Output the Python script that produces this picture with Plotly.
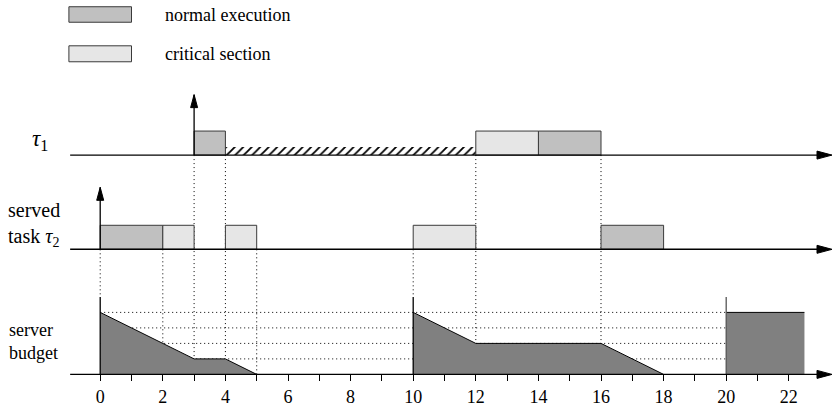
import plotly.graph_objects as go

# ---------------- data ----------------
ticks = list(range(0, 23))
tick_labels = [str(t) if t % 2 == 0 else "" for t in ticks]

tau1_normal_start = [3, 14]
tau1_normal_end = [4, 16]
tau1_critical_start = [12]
tau1_critical_end = [14]
tau1_blocked_start = [4]
tau1_blocked_end = [12]

tau2_normal_start = [0, 16]
tau2_normal_end = [2, 18]
tau2_critical_start = [2, 4, 10]
tau2_critical_end = [3, 5, 12]

tau1_release = [3]
tau2_release = [0]

budget_t = [[0, 3, 4, 5], [10, 12, 16, 18], [20, 22.5]]
budget_v = [[4, 1, 1, 0], [4, 2, 2, 0], [4, 4]]
replenish_t = [0, 10, 20]
budget_levels = [1, 2, 3, 4]
budget_max = 5

dot_t = [0, 2, 3, 4, 5, 10, 12, 16]
dot_from_row = ["tau2", "tau2", "tau1", "tau1", "tau2", "tau2", "tau1", "tau1"]
dot_to_level = [5, 2, 1, 1, 0, 5, 2, 2]

# ---------------- style / layout constants ----------------
NORMAL = "#c0c0c0"
CRITICAL = "#e6e6e6"
BUDGET = "#808080"
EDGE = "#3a3a3a"
FONT = "Liberation Serif"

ROW = {"tau1": 14.15, "tau2": 8.07}
BAR_H = 1.55
HATCH_H = 0.52
AX_START = -0.96
AX_END = 23.38
GRID_END = 20

fig = go.Figure()
shapes = []
annotations = []


def rect(x0, x1, y0, y1, fill, line=EDGE):
    shapes.append(dict(type="rect", xref="x", yref="y", x0=x0, x1=x1, y0=y0, y1=y1,
                       fillcolor=fill, line=dict(color=line, width=1), layer="above"))


def hline(x0, x1, y, width=1.3, color="black", dash=None, layer="above"):
    d = dict(color=color, width=width)
    if dash:
        d["dash"] = dash
    shapes.append(dict(type="line", xref="x", yref="y", x0=x0, x1=x1, y0=y, y1=y,
                       line=d, layer=layer))


def vline(x, y0, y1, width=1.3, color="black", dash=None, layer="above"):
    d = dict(color=color, width=width)
    if dash:
        d["dash"] = dash
    shapes.append(dict(type="line", xref="x", yref="y", x0=x, x1=x, y0=y0, y1=y1,
                       line=d, layer=layer))


def head_right(x, y):
    shapes.append(dict(type="path", xref="x", yref="y", xsizemode="pixel", ysizemode="pixel",
                       xanchor=x, yanchor=y, path="M0,0 L-15,4 L-15,-4 Z",
                       fillcolor="black", line=dict(color="black", width=1)))


def head_up(x, y):
    shapes.append(dict(type="path", xref="x", yref="y", xsizemode="pixel", ysizemode="pixel",
                       xanchor=x, yanchor=y, path="M0,0 L-3.5,-13 L3.5,-13 Z",
                       fillcolor="black", line=dict(color="black", width=1)))


# dotted budget grid (below the fill)
for lv in budget_levels:
    hline(0, GRID_END, lv, width=1, dash="1px,3px", layer="below")

# dotted vertical guides
for t, r, lv in zip(dot_t, dot_from_row, dot_to_level):
    vline(t, ROW[r], lv, width=1, dash="1px,3px", layer="below")

# budget fill + outline
for ts, vs in zip(budget_t, budget_v):
    xs = [ts[0]] + ts + [ts[-1], ts[0]]
    ys = [0] + vs + [0, 0]
    fig.add_trace(go.Scatter(x=xs, y=ys, mode="lines", fill="toself", fillcolor=BUDGET,
                             line=dict(width=0), hoverinfo="skip", showlegend=False))
    fig.add_trace(go.Scatter(x=ts, y=vs, mode="lines", line=dict(color="black", width=1),
                             hoverinfo="skip", showlegend=False))
for t in replenish_t:
    vline(t, 0, budget_max, width=1.3, color="black" if t < 20 else "#555")

# hatched blocked interval of tau1
for s, e in zip(tau1_blocked_start, tau1_blocked_end):
    fig.add_trace(go.Bar(x=[(s + e) / 2], width=[e - s], base=[ROW["tau1"]], y=[HATCH_H],
                         marker=dict(color="rgba(0,0,0,0)", line=dict(width=0),
                                     pattern=dict(shape="/", fgcolor="black", bgcolor="rgba(0,0,0,0)",
                                                  size=6, solidity=0.3, fgopacity=1)),
                         hoverinfo="skip", showlegend=False))

# task bars
for s, e in zip(tau1_normal_start, tau1_normal_end):
    rect(s, e, ROW["tau1"], ROW["tau1"] + BAR_H, NORMAL)
for s, e in zip(tau1_critical_start, tau1_critical_end):
    rect(s, e, ROW["tau1"], ROW["tau1"] + BAR_H, CRITICAL)
for s, e in zip(tau2_normal_start, tau2_normal_end):
    rect(s, e, ROW["tau2"], ROW["tau2"] + BAR_H, NORMAL)
for s, e in zip(tau2_critical_start, tau2_critical_end):
    rect(s, e, ROW["tau2"], ROW["tau2"] + BAR_H, CRITICAL)

# time axes with arrows
for y in [ROW["tau1"], ROW["tau2"], 0]:
    hline(AX_START, AX_END - 0.2, y, width=1.4)
    head_right(AX_END, y)

# release arrows
for t in tau1_release:
    vline(t, ROW["tau1"], ROW["tau1"] + 3.9, width=1.3)
    head_up(t, ROW["tau1"] + 3.9)
for t in tau2_release:
    vline(t, ROW["tau2"], ROW["tau2"] + 4.0, width=1.3)
    head_up(t, ROW["tau2"] + 4.0)

# legend
rect(-1, 1, 22.72, 23.72, NORMAL)
rect(-1, 1, 20.17, 21.2, CRITICAL)
annotations.append(dict(x=2.0, y=23.2, xref="x", yref="y", text="normal execution", showarrow=False,
                        xanchor="left", yanchor="middle", font=dict(family=FONT, size=18, color="black")))
annotations.append(dict(x=2.0, y=20.68, xref="x", yref="y", text="critical section", showarrow=False,
                        xanchor="left", yanchor="middle", font=dict(family=FONT, size=18, color="black")))

# row labels
annotations.append(dict(x=-2.25, y=15.1, xref="x", yref="y", text="<i>τ</i><sub>1</sub>", showarrow=False,
                        xanchor="left", yanchor="middle", font=dict(family=FONT, size=23, color="black")))
annotations.append(dict(x=-3.02, y=9.65, xref="x", yref="y", text="served<br>task <i>τ</i><sub>2</sub>",
                        showarrow=False, xanchor="left", yanchor="middle", align="left",
                        font=dict(family=FONT, size=20, color="black")))
annotations.append(dict(x=-2.98, y=2.12, xref="x", yref="y", text="server<br>budget",
                        showarrow=False, xanchor="left", yanchor="middle", align="left",
                        font=dict(family=FONT, size=18, color="black")))

fig.update_layout(
    width=833, height=413,
    margin=dict(l=0, r=0, t=0, b=0, pad=0),
    paper_bgcolor="white", plot_bgcolor="white",
    font=dict(family=FONT, color="black"),
    showlegend=False, bargap=0,
    shapes=shapes, annotations=annotations,
    xaxis=dict(range=[-3.2013, 23.412], showgrid=False, zeroline=False, showline=False,
               tickmode="array", tickvals=ticks, ticktext=tick_labels, ticks="outside",
               ticklen=6, tickwidth=1, tickcolor="black", anchor="free", position=0.0935,
               tickfont=dict(family=FONT, size=18, color="black"), automargin=False,
               fixedrange=True),
    yaxis=dict(range=[-2.49, 24.155], visible=False, fixedrange=True, automargin=False),
)

fig.write_html("out.html", config={"displayModeBar": False},
               post_script="document.body.style.margin='0';document.body.style.overflow='hidden';")
